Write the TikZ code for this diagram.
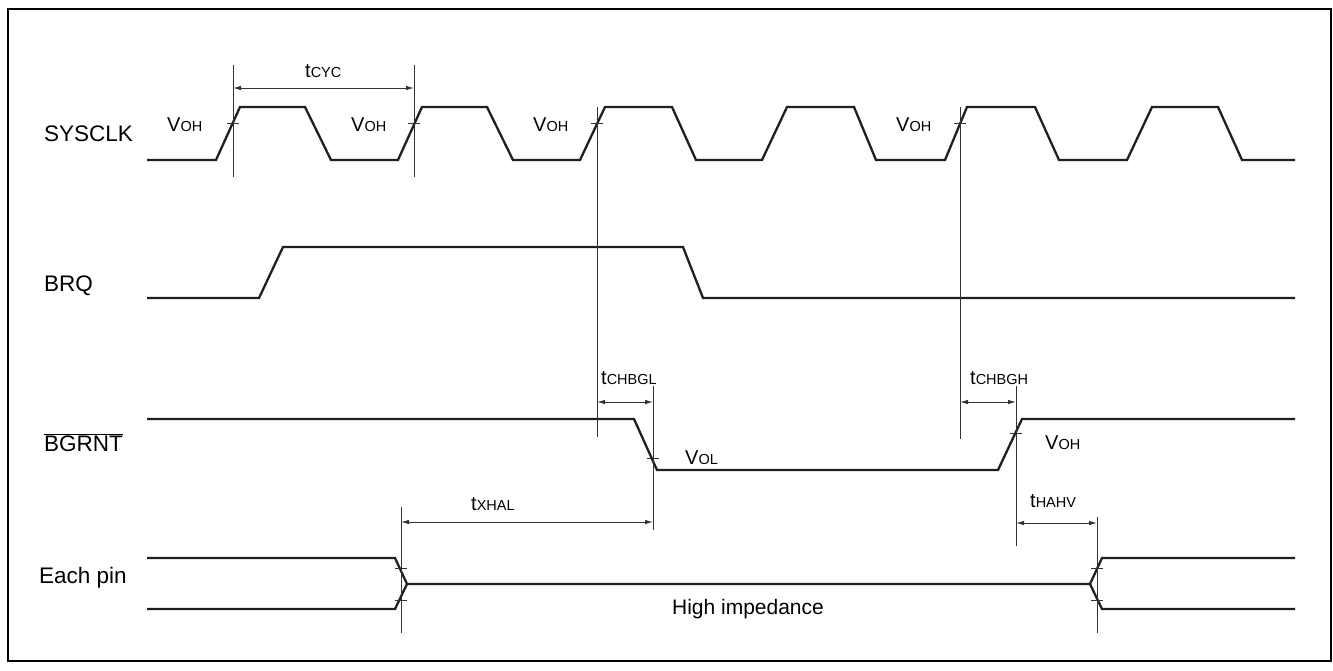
\documentclass[tikz,border=0pt]{standalone}
\usepackage{fontspec}
\setmainfont{Liberation Sans}
\usetikzlibrary{arrows.meta}
\newcommand{\mybig}[1]{\fontsize{20}{20}\selectfont #1}
\newcommand{\mysml}[1]{\fontsize{14.5}{14.5}\selectfont #1}
\newcommand{\lbl}[2]{{\mybig{#1}}{\mysml{#2}}}
\begin{document}
\begin{tikzpicture}[x=1pt,y=-1pt,
  sig/.style={line width=2.3pt,line join=miter,black!88},
  thin/.style={line width=0.9pt,black!80},
  dim/.style={line width=0.9pt,black!80,{Latex[length=8pt,width=4.5pt]}-{Latex[length=8pt,width=4.5pt]}},
  txt/.style={inner sep=0pt,anchor=base west,font=\fontsize{22.5}{22.5}\selectfont},
  sub/.style={inner sep=0pt,anchor=base west}]
\useasboundingbox (0,0) rectangle (1333,670);
\draw[line width=2pt] (8,9) rectangle (1331,661);
% signal names
\node[txt] (n1) at (44,141) {SYSCLK};
\node[txt] (n2) at (44,291) {BRQ};
\node[txt] (n3) at (44,451) {$\overline{\hbox{BGRNT}}$};
\node[txt] (n4) at (39,583) {Each pin};
\node[txt,anchor=base,font=\fontsize{21}{21}\selectfont] (n5) at (748,614) {High impedance};
% SYSCLK
\draw[sig] (147,160) -- (216,160) -- (240,107) -- (305,107) -- (331,160) -- (398,160) -- (422,107) -- (487,107) -- (513,160) -- (580,160) -- (605,107) -- (672,107) -- (696,160) -- (762,160) -- (787,107) -- (854,107) -- (876,160) -- (945,160) -- (967,107) -- (1035,107) -- (1059,160) -- (1127,160) -- (1152,107) -- (1218,107) -- (1242,160) -- (1295,160);
% BRQ
\draw[sig] (147,298) -- (259,298) -- (283,247) -- (683,247) -- (703,298) -- (1295,298);
% BGRNT
\draw[sig] (147,419) -- (634,419) -- (657,470) -- (998,470) -- (1022,419) -- (1295,419);
% Each pin
\draw[sig] (147,558) -- (395,558) -- (407,584) -- (1090,584) -- (1102,558) -- (1295,558);
\draw[sig] (147,609) -- (395,609) -- (407,584);
\draw[sig] (1090,584) -- (1102,609) -- (1295,609);
% reference lines
\coordinate (a1) at (233,65);  \coordinate (b1) at (233,177);
\coordinate (a2) at (414,65);  \coordinate (b2) at (414,177);
\coordinate (a3) at (597,107); \coordinate (b3) at (597,437);
\coordinate (a4) at (960,107); \coordinate (b4) at (960,439);
\coordinate (a5) at (653,386); \coordinate (b5) at (653,530);
\coordinate (a6) at (1016,386); \coordinate (b6) at (1016,546);
\coordinate (a7) at (401,507); \coordinate (b7) at (401,633);
\coordinate (a8) at (1097,517); \coordinate (b8) at (1097,633);
\foreach \i in {1,...,8} {\draw[thin] (a\i) -- (b\i);}
% ticks
\foreach \x/\y in {233/123,414/123,597/123,960/123,653/458,1016/433,401/568,401/600,1097/568,1097/600}
  {\draw[thin] (\x-6,\y) -- (\x+6,\y);}
% dimension arrows
\coordinate (c1) at (233,88);  \coordinate (d1) at (414,88);
\coordinate (c2) at (597,402); \coordinate (d2) at (653,402);
\coordinate (c3) at (960,402); \coordinate (d3) at (1016,402);
\coordinate (c4) at (401,522); \coordinate (d4) at (653,522);
\coordinate (c5) at (1016,523); \coordinate (d5) at (1097,523);
\foreach \i in {1,...,5} {\draw[dim] (c\i) -- (d\i);}
% labels
\node[sub] (v1) at (167,131) {\lbl{V}{OH}};
\node[sub] (v2) at (351,131) {\lbl{V}{OH}};
\node[sub] (v3) at (533,131) {\lbl{V}{OH}};
\node[sub] (v4) at (896,131) {\lbl{V}{OH}};
\node[sub] (v5) at (685,464) {\lbl{V}{OL}};
\node[sub] (v6) at (1045,449) {\lbl{V}{OH}};
\node[sub] (t1) at (305,77) {\lbl{t}{CYC}};
\node[sub] (t2) at (601,384) {\lbl{t}{CHBGL}};
\node[sub] (t3) at (970,384) {\lbl{t}{CHBGH}};
\node[sub] (t4) at (471,510) {\lbl{t}{XHAL}};
\node[sub] (t5) at (1030,507) {\lbl{t}{HAHV}};
\end{tikzpicture}
\end{document}
